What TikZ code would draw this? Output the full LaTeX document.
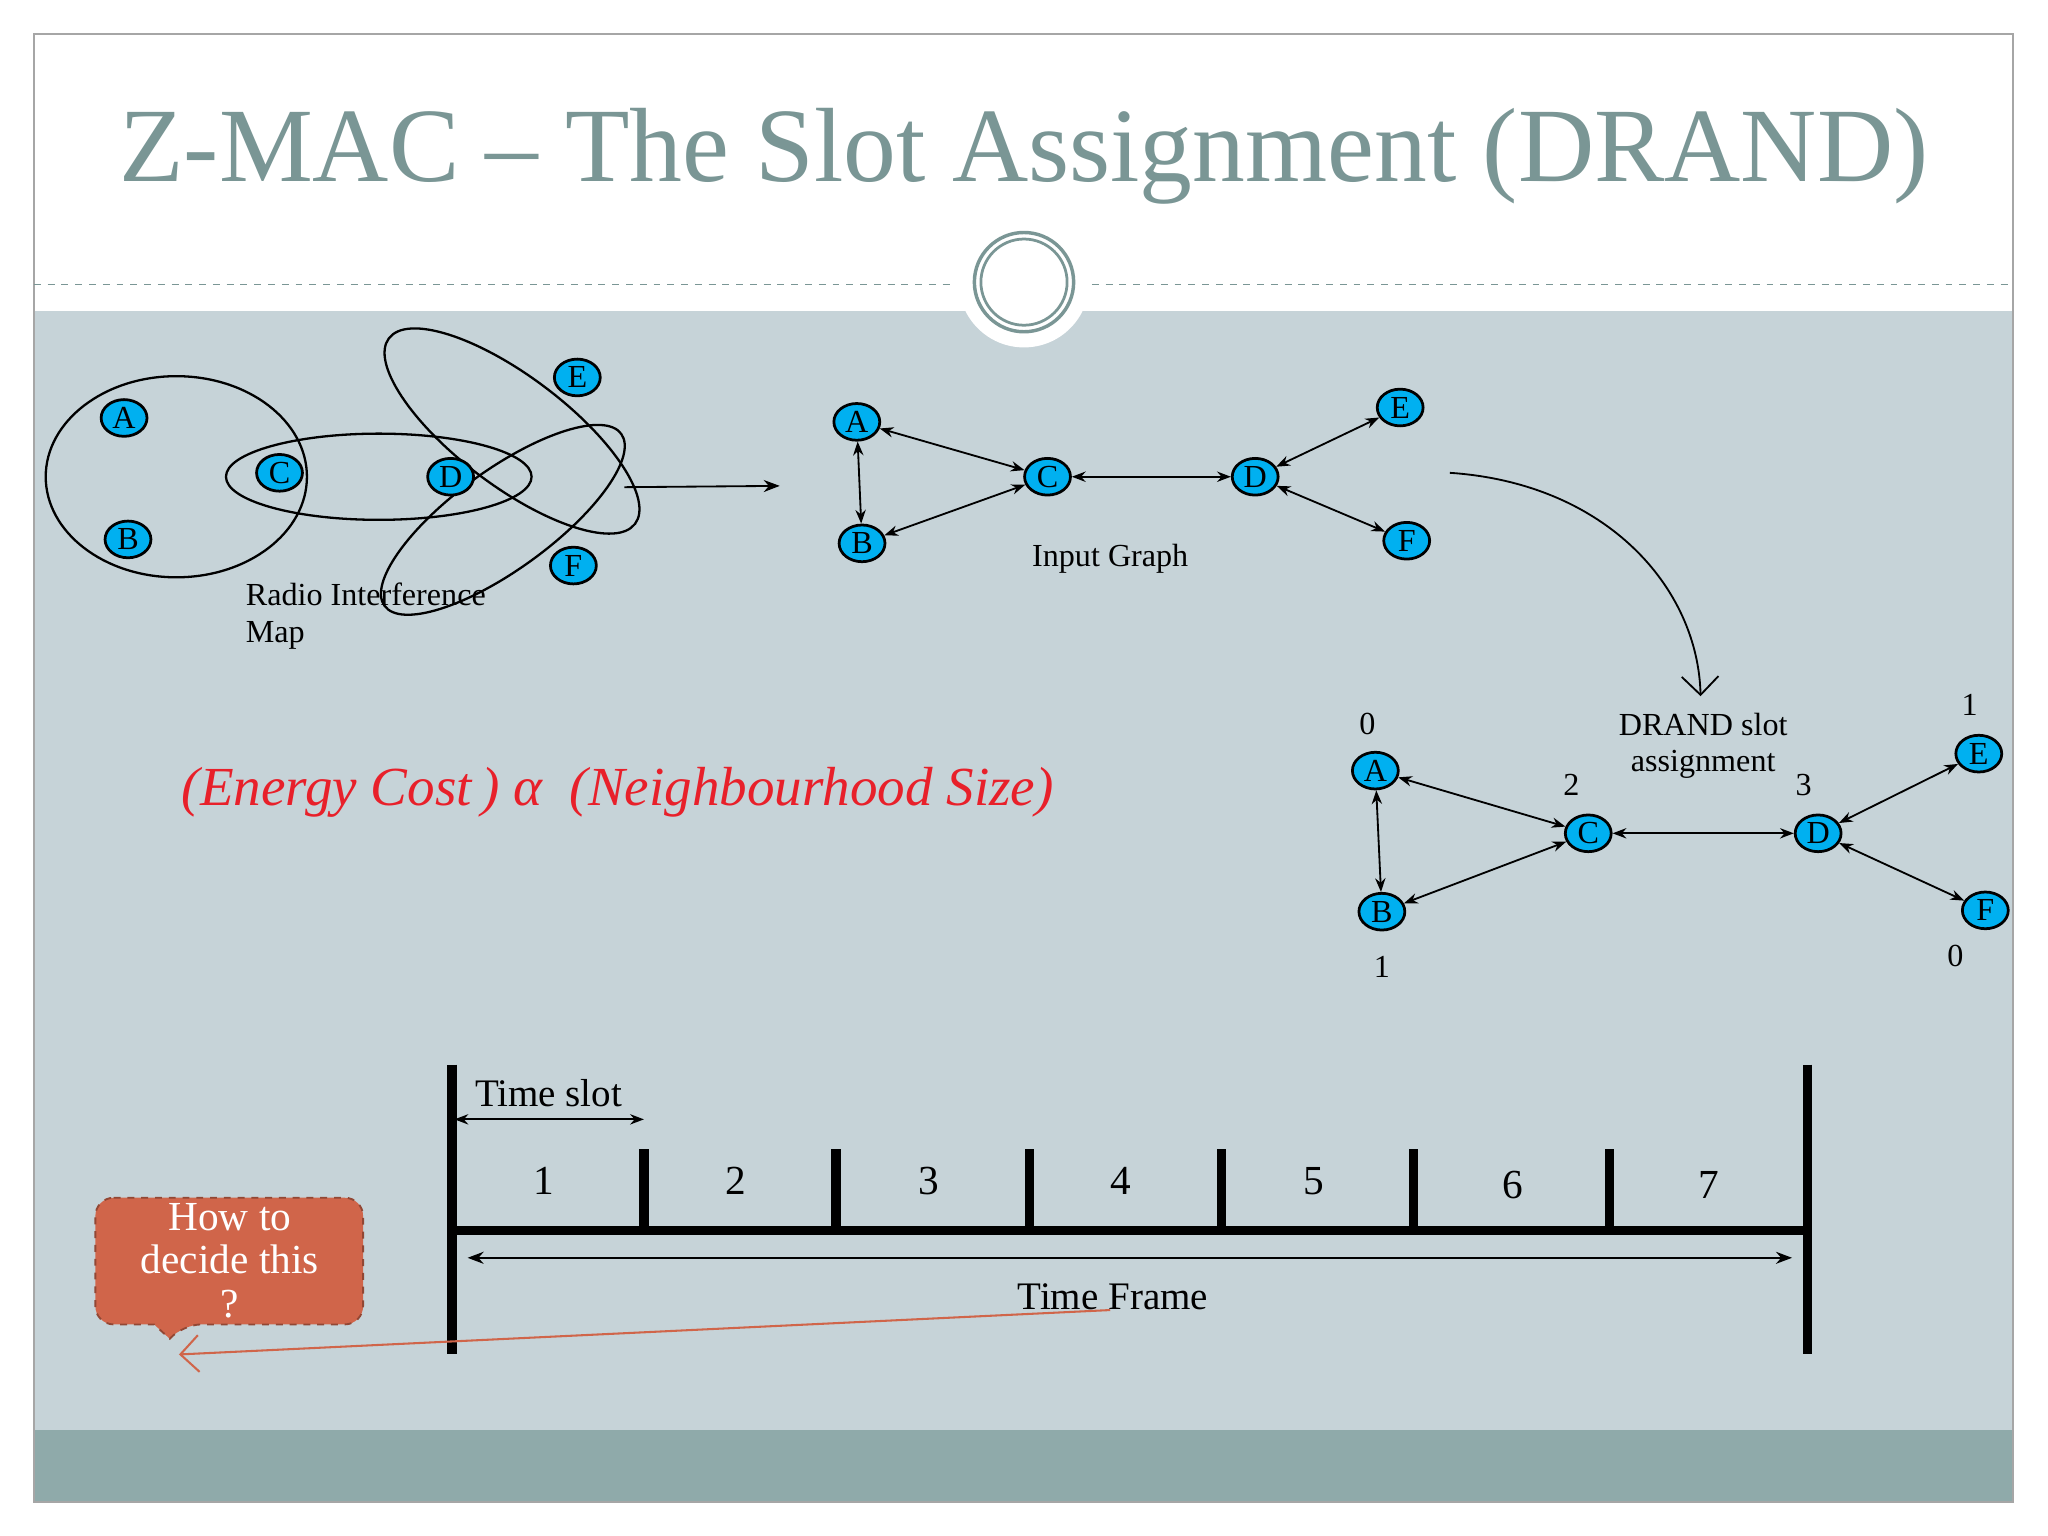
\documentclass[tikz,border=0pt]{standalone}
\usepackage{fontspec}
\setmainfont{Liberation Serif}
\usetikzlibrary{arrows.meta}
\definecolor{bgc}{HTML}{C6D3D8}
\definecolor{band}{HTML}{8FAAAA}
\definecolor{titc}{HTML}{7A9695}
\definecolor{nodec}{HTML}{00B0F0}
\definecolor{callc}{HTML}{D0654A}
\definecolor{eqred}{HTML}{E8202A}
\tikzset{
 nd/.style={ellipse,draw=black,fill=nodec,line width=1.2pt,minimum width=20pt,minimum height=16pt,inner sep=0pt,font=\fontsize{14}{14}\selectfont},
 lbl/.style={font=\fontsize{14}{16}\selectfont,align=center},
 num/.style={font=\fontsize{18}{18}\selectfont},
 ed/.style={{Stealth[length=6pt]}-{Stealth[length=6pt]},line width=0.8pt},
 thk/.style={line width=4pt},
}
\usetikzlibrary{shapes.geometric}
\begin{document}
\begin{tikzpicture}[x=0.02cm,y=-0.02cm]
\useasboundingbox (0,0) rectangle (1568,1176);
\fill[white] (0,0) rectangle (1568,1176);
\fill[bgc] (26,238) rectangle (1541,1095);
\fill[band] (26,1095) rectangle (1541,1150);
\draw[gray!70,line width=0.8pt] (26,26) rectangle (1541,1150);
\draw[titc,dashed,line width=0.6pt] (26,218) -- (730,218) (836,218) -- (1541,218);
\fill[white] (784,216) circle (50);
\draw[titc,line width=1.5pt] (784,216) circle (38);
\draw[titc,line width=1.2pt] (784,216) circle (33);
\node[titc,font=\fontsize{46}{46}\selectfont] (title) at (784,120) {Z-MAC -- The Slot Assignment (DRAND)};
% interference map
\draw[line width=1pt] (135,365) ellipse (100 and 77);
\draw[line width=1pt] (290,365) ellipse (117 and 33);
\begin{scope}[shift={(392,330)},rotate=-37]\draw[line width=1pt] (0,0) ellipse (118 and 42);\end{scope}
\begin{scope}[shift={(385,398)},rotate=36]\draw[line width=1pt] (0,0) ellipse (112 and 38);\end{scope}
\node[nd] (ra) at (95,320) {A};
\node[nd] (rb) at (98,413) {B};
\node[nd] (rc) at (214,362) {C};
\node[nd] (rd) at (345,365) {D};
\node[nd] (re) at (442,289) {E};
\node[nd] (rf) at (439,433) {F};
\node[lbl,align=left,anchor=north west] (rim) at (182,440) {Radio Interference\\Map};
\coordinate (m1) at (478,373); \coordinate (m2) at (597,372);
\draw[-{Stealth[length=7pt]},line width=0.8pt] (m1) -- (m2);
% input graph
\node[nd] (ia) at (656,323) {A};
\node[nd] (ib) at (660,416) {B};
\node[nd] (ic) at (802,365) {C};
\node[nd] (id) at (961,365) {D};
\node[nd] (ie) at (1072,312) {E};
\node[nd] (if) at (1077,414) {F};
\draw[ed] (ia)--(ib); \draw[ed] (ia)--(ic); \draw[ed] (ib)--(ic); \draw[ed] (ic)--(id); \draw[ed] (id)--(ie); \draw[ed] (id)--(if);
\node[lbl] (ig) at (850,428) {Input Graph};
\coordinate (c1) at (1110,362); \coordinate (c2) at (1302,533);
\draw[-{Straight Barb[length=8pt]},line width=0.8pt] (c1) .. controls (1230,370) and (1300,450) .. (c2);
% DRAND
\node[nd] (da) at (1053,590) {A};
\node[nd] (db) at (1058,698) {B};
\node[nd] (dc) at (1216,638) {C};
\node[nd] (dd) at (1392,638) {D};
\node[nd] (de) at (1515,577) {E};
\node[nd] (df) at (1520,697) {F};
\draw[ed] (da)--(db); \draw[ed] (da)--(dc); \draw[ed] (db)--(dc); \draw[ed] (dc)--(dd); \draw[ed] (dd)--(de); \draw[ed] (dd)--(df);
\node[lbl] at (1047,554) {0};
\node[lbl] at (1058,740) {1};
\node[lbl] at (1203,601) {2};
\node[lbl] at (1381,601) {3};
\node[lbl] at (1508,540) {1};
\node[lbl] at (1497,732) {0};
\node[lbl] (dl) at (1304,571) {DRAND slot\\assignment};
% equation
\node[eqred,font=\fontsize{24}{24}\selectfont\itshape] (eq) at (473,607) {(Energy Cost\,)\ α\ \ (Neighbourhood Size)};
% timeline
\coordinate (l1) at (346,815); \coordinate (l2) at (346,1037);
\coordinate (r1) at (1384,815); \coordinate (r2) at (1384,1037);
\draw[thk] (l1)--(l2); \draw[thk] (r1)--(r2);
\draw[thk] (346,942) -- (1384,942);
\foreach \x in {493,640,788,935,1082,1232} \draw[thk] (\x,880) -- (\x,942);
\foreach \n/\x/\y in {1/416/904,2/563/904,3/711/904,4/858/904,5/1006/904,6/1158/907,7/1308/907} \node[num] at (\x,\y) {\n};
\node[num,font=\fontsize{17}{17}\selectfont] (ts) at (420,837) {Time slot};
\draw[{Stealth[length=6pt]}-{Stealth[length=6pt]},line width=0.8pt] (348,857) -- (493,857);
\draw[{Stealth[length=7pt]}-{Stealth[length=7pt]},line width=0.8pt] (358,963) -- (1372,963);
\node[num,font=\fontsize{17}{17}\selectfont] (tf) at (852,993) {Time Frame};
% callout
\draw[callc!70!black,dashed,fill=callc,line width=0.8pt,rounded corners=8pt] (73,917) -- (278,917) -- (278,1014) -- (140,1014) [sharp corners]-- (130,1025) -- (118,1014) [rounded corners=8pt]-- (73,1014) -- cycle;
\node[white,font=\fontsize{18}{19}\selectfont,align=center] (hw) at (176,965) {How to\\decide this\\?};
\coordinate (p1) at (850,1003); \coordinate (p2) at (137,1037);
\draw[callc,-{Straight Barb[length=8pt]},line width=0.9pt] (p1) -- (p2);
\end{tikzpicture}
\end{document}
